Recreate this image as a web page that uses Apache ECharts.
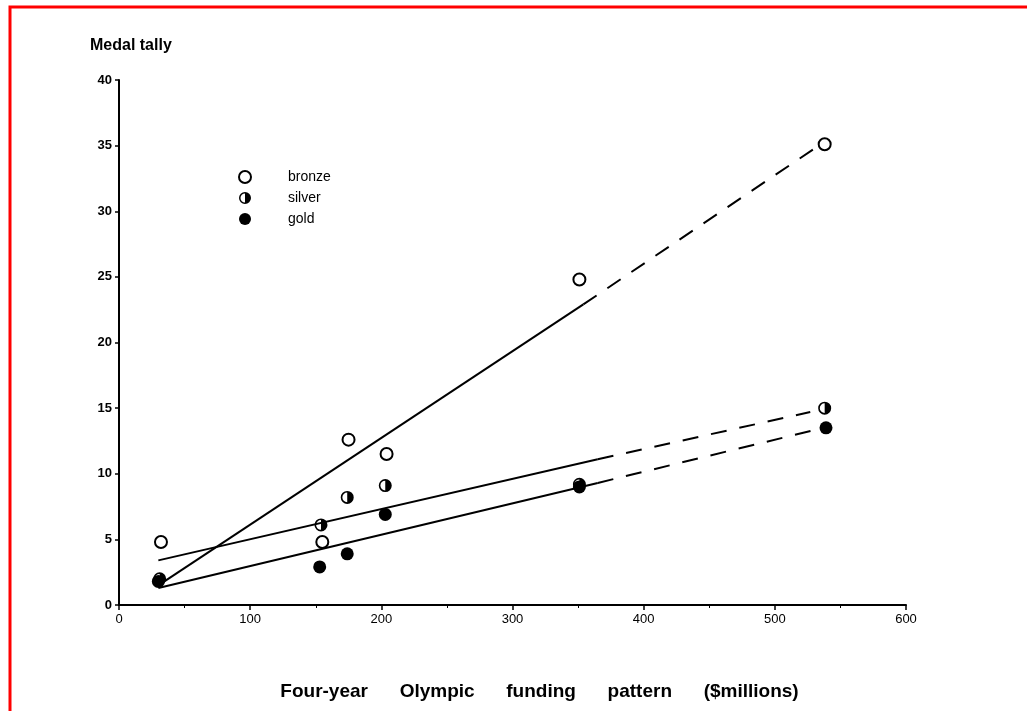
<!DOCTYPE html>
<html>
<head>
<meta charset="utf-8">
<script src="https://cdn.jsdelivr.net/npm/echarts@6/dist/echarts.min.js"></script>
<style>
  html, body { margin: 0; padding: 0; background: #fff; }
  #chart { width: 1027px; height: 711px; }
</style>
</head>
<body>
<div id="chart"></div>
<script>
// medal counts vs four-year funding ($millions)
var bronze = [[32, 4.8], [155, 4.8], [175, 12.6], [204, 11.5], [351, 24.8], [538, 35.1]];
var silver = [[31, 2.0], [154, 6.1], [174, 8.2], [203, 9.1], [351, 9.2], [538, 15.0]];
var gold = [[30, 1.8], [153, 2.9], [174, 3.9], [203, 6.9], [351, 9.0], [539, 13.5]];

// fitted trend lines: solid part, then dashed extrapolation
var bronzeFit = [[30, 1.5], [354, 22.9]];
var bronzeExt = [[354, 22.9], [529, 34.7]];
var silverFit = [[30, 3.4], [365, 11.1]];
var silverExt = [[365, 11.1], [527, 14.7]];
var goldFit = [[30, 1.3], [365, 9.3]];
var goldExt = [[365, 9.3], [529, 13.3]];

var xTicks = [0, 100, 200, 300, 400, 500, 600];
var yTicks = [0, 5, 10, 15, 20, 25, 30, 35, 40];

var FONT = "Liberation Sans, Arial, sans-serif";
// ring with the right half filled
var halfCircle = "path://M0,-10A10,10,0,1,1,0,10A10,10,0,1,1,0,-10Z M0,-7.5A7.5,7.5,0,0,0,0,7.5Z";

var chart = echarts.init(document.getElementById("chart"));

function trend(name, data, dashed) {
  return {
    name: name,
    type: "line",
    data: data,
    symbol: "none",
    silent: true,
    z: 1,
    lineStyle: { color: "#000", width: 2, type: dashed ? [16, 13] : "solid" }
  };
}

function dots(name, data, symbol, size, style) {
  return {
    name: name,
    type: "scatter",
    data: data,
    symbol: symbol,
    symbolSize: size,
    z: 3,
    itemStyle: style
  };
}

chart.setOption({
  animation: false,
  backgroundColor: "#fff",
  graphic: [{
    type: "rect",
    shape: { x: 10, y: 7, width: 1100, height: 800 },
    style: { fill: null, stroke: "#ff0000", lineWidth: 3 },
    silent: true
  }, {
    type: "text",
    left: 90,
    top: 38,
    style: { text: "Medal tally", font: "bold 16px " + FONT, fill: "#000" }
  }],
  grid: { left: 119, right: 121, top: 80, bottom: 106 },
  legend: {
    orient: "vertical",
    left: 233,
    top: 165,
    itemWidth: 12,
    itemHeight: 12,
    itemGap: 7,
    selectedMode: false,
    data: [
      { name: "bronze", icon: "emptyCircle" },
      { name: "silver", icon: halfCircle },
      { name: "gold", icon: "circle" }
    ],
    textStyle: { fontFamily: FONT, fontSize: 14, color: "#000", padding: [0, 0, 0, 32] }
  },
  xAxis: {
    type: "value",
    min: 0,
    max: 600,
    interval: 100,
    name: "Four-year      Olympic      funding      pattern      ($millions)",
    nameLocation: "middle",
    nameGap: 77,
    nameTextStyle: {
      fontFamily: FONT, fontWeight: "bold", fontSize: 19, color: "#000",
      padding: [0, 0, 0, 54]
    },
    splitLine: { show: false },
    axisLine: { lineStyle: { color: "#000", width: 2 } },
    axisTick: { show: true, length: 5, lineStyle: { color: "#000", width: 1.5 } },
    minorTick: { show: true, splitNumber: 2, length: 3, lineStyle: { color: "#000" } },
    axisLabel: {
      fontFamily: FONT, fontSize: 13, color: "#000", margin: 8,
      formatter: function (v) { return xTicks.indexOf(v) >= 0 ? String(v) : ""; }
    }
  },
  yAxis: {
    type: "value",
    min: 0,
    max: 40,
    interval: 5,
    splitLine: { show: false },
    axisLine: { show: true, lineStyle: { color: "#000", width: 2 } },
    axisTick: { show: true, length: 4, lineStyle: { color: "#000", width: 1.5 } },
    axisLabel: {
      fontFamily: FONT, fontSize: 13, fontWeight: "bold", color: "#000", margin: 7,
      formatter: function (v) { return yTicks.indexOf(v) >= 0 ? String(v) : ""; }
    }
  },
  series: [
    trend("bronze fit", bronzeFit, false),
    trend("bronze ext", bronzeExt, true),
    trend("silver fit", silverFit, false),
    trend("silver ext", silverExt, true),
    trend("gold fit", goldFit, false),
    trend("gold ext", goldExt, true),
    dots("bronze", bronze, "emptyCircle", 12, { color: "#000", borderColor: "#000", borderWidth: 2, opacity: 1 }),
    dots("silver", silver, halfCircle, 13, { color: "#000", opacity: 1 }),
    dots("gold", gold, "circle", 13, { color: "#000", opacity: 1 })
  ]
});
</script>
</body>
</html>
